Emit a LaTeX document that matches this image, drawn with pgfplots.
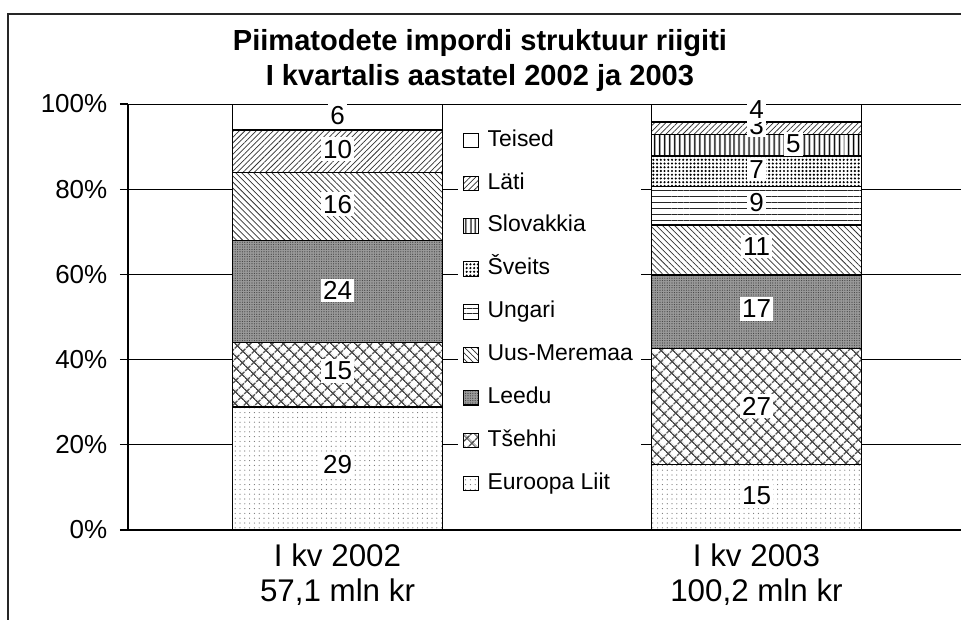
\documentclass[border=0pt]{standalone}
\usepackage{pgfplots}
\pgfplotsset{compat=1.18}
\usepackage{fontspec}
\setmainfont{Liberation Sans}
\usetikzlibrary{patterns,patterns.meta}

\begin{document}
\begin{tikzpicture}
\path[use as bounding box, clip] (0,0) rectangle (720.75pt,464.25pt);
\draw[line width=1.1pt, black!85] (6pt,-20pt) -- (6pt,453.75pt) -- (740pt,453.75pt);
\begin{axis}[
  at={(96pt,66.75pt)}, anchor=south west,
  scale only axis, width=628.5pt, height=319.5pt,
  ybar stacked, bar width=0.5,
  xmin=-0.5, xmax=1.5, ymin=0, ymax=100,
  axis x line*=bottom, axis y line*=left,
  axis line style={-, black, line width=0.8pt},
  xtick={0,1},
  xticklabels={{I kv 2002\\57,1 mln kr},{I kv 2003\\100,2 mln kr}},
  xticklabel style={align=center, font=\fontsize{23.5}{26.25}\selectfont, yshift=-0.5pt},
  major x tick style={draw=none},
  ytick={0,20,40,60,80,100},
  yticklabels={0\%,20\%,40\%,60\%,80\%,100\%},
  yticklabel style={font=\fontsize{19.5}{22}\selectfont, xshift=-6pt},
  tick align=outside, major tick length=6pt,
  major y tick style={black, line width=0.8pt},
  ymajorgrids, grid style={black, line width=0.75pt},
  title={Piimatodete impordi struktuur riigiti\\I kvartalis aastatel 2002 ja 2003},
  title style={at={(0.42,1.0834)}, anchor=center, align=center, font=\bfseries\fontsize{21.8}{26.25}\selectfont},
  reverse legend,
  legend cell align=left,
  legend image code/.code={\draw[#1, line width=0.8pt] (0pt,-5.5pt) rectangle (11pt,5.5pt);},
  legend style={at={(0.3934,0.958)}, anchor=north west, draw=none, fill=white,
    inner xsep=4pt, inner ysep=4pt, row sep=12.65pt, column sep=4.5pt,
    font=\fontsize{17.2}{19}\selectfont,
    nodes={inner sep=2pt, text height=12pt, text depth=3.5pt}},
]
% Euroopa Liit
\addplot[draw=black, line width=1.1pt, fill=white,
  postaction={pattern={Dots[distance=3.6pt,radius=0.45pt]}, pattern color=black!55}]
  coordinates {(0,28.9) (1,15.4)};
\addlegendentry{Euroopa Liit}
% Tsehhi
\addplot[draw=black, line width=1.1pt, fill=white,
  postaction={pattern={Hatch[angle=45,distance=6.5pt,line width=1.2pt]}, pattern color=black!70}]
  coordinates {(0,15.1) (1,27.25)};
\addlegendentry{Tšehhi}
% Leedu
\addplot[draw=black, line width=1.1pt, fill=black!40,
  postaction={pattern={Dots[distance=1.8pt,radius=0.45pt]}, pattern color=black!75}]
  coordinates {(0,23.9) (1,17.25)};
\addlegendentry{Leedu}
% Uus-Meremaa
\addplot[draw=black, line width=1.1pt, fill=white,
  postaction={pattern={Lines[angle=-45,distance=3.2pt,line width=0.55pt]}, pattern color=black!80}]
  coordinates {(0,16.0) (1,11.7)};
\addlegendentry{Uus-Meremaa}
% Ungari
\addplot[draw=black, line width=1.1pt, fill=white,
  postaction={pattern={Lines[angle=0,distance=4.4pt,line width=0.8pt]}, pattern color=black!85}]
  coordinates {(0,0) (1,9.0)};
\addlegendentry{Ungari}
% Sveits
\addplot[draw=black, line width=1.1pt, fill=white,
  postaction={pattern={Dots[distance=2.8pt,radius=0.9pt]}, pattern color=black}]
  coordinates {(0,0) (1,7.2)};
\addlegendentry{Šveits}
% Slovakkia
\addplot[draw=black, line width=1.1pt, fill=white,
  postaction={pattern={Lines[angle=90,distance=4pt,line width=1.1pt]}, pattern color=black}]
  coordinates {(0,0) (1,5.1)};
\addlegendentry{Slovakkia}
% Lati
\addplot[draw=black, line width=1.1pt, fill=white,
  postaction={pattern={Lines[angle=45,distance=3pt,line width=0.55pt]}, pattern color=black!80}]
  coordinates {(0,10.0) (1,2.9)};
\addlegendentry{Läti}
% Teised
\addplot[draw=black, line width=1.1pt, fill=white]
  coordinates {(0,6.1) (1,4.2)};
\addlegendentry{Teised}
\end{axis}

\begin{axis}[
  at={(96pt,66.75pt)}, anchor=south west,
  scale only axis, width=628.5pt, height=319.5pt,
  xmin=-0.5, xmax=1.5, ymin=0, ymax=100, hide axis,
  nodes near coords, point meta=explicit symbolic,
  every node near coord/.append style={anchor=center, fill=white, text=black,
    inner xsep=1.5pt, inner ysep=2pt, font=\fontsize{19.5}{21}\selectfont},
]
\addplot[draw=none, mark=none] coordinates {
  (0,15.3) [29] (0,37.3) [15] (0,56.2) [24] (0,76.5) [16] (0,89.4) [10] (0,97.3) [6]
  (1,8.1) [15] (1,29.1) [27] (1,51.9) [17] (1,66.5) [11] (1,76.9) [9] (1,84.7) [7]
  (1.088,90.6) [5] (1,95.0) [3] (1,98.6) [4]
};
\end{axis}
\end{tikzpicture}
\end{document}
